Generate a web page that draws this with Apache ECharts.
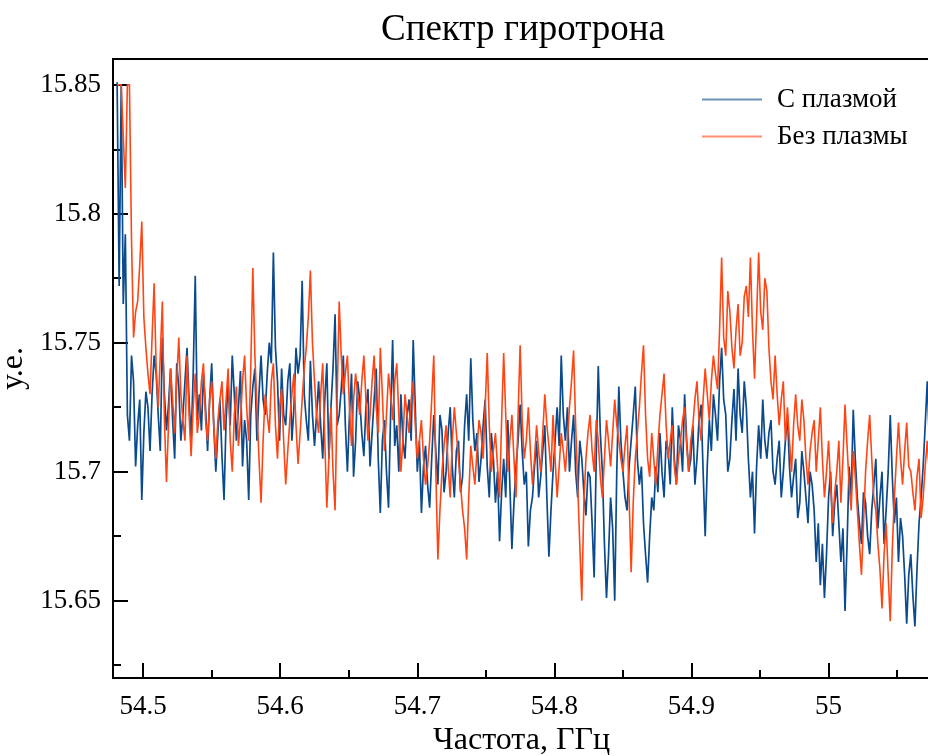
<!DOCTYPE html>
<html>
<head>
<meta charset="utf-8">
<script src="https://cdn.jsdelivr.net/npm/echarts@6/dist/echarts.min.js"></script>
<style>html,body{margin:0;padding:0;background:#fff}#c{width:928px;height:756px}</style>
</head>
<body>
<div id="c"></div>
<script>
// Sampling grid of the spectrum (GHz)
const freqStart = 54.481;
const freqStep = 0.0015;

// Series: "С плазмой" (with plasma)
const withPlasma = [
15.851,15.772,15.850,15.765,15.792,15.722,15.712,15.745,15.735,15.702,15.718,15.728,15.689,15.715,15.731,15.725,15.708,15.730,15.745,15.738,
15.722,15.708,15.752,15.730,15.716,15.726,15.740,15.720,15.705,15.742,15.733,15.712,15.722,15.735,15.748,15.728,15.712,15.738,15.776,15.720,
15.730,15.716,15.738,15.725,15.708,15.728,15.742,15.718,15.700,15.715,15.728,15.706,15.689,15.720,15.735,15.718,15.745,15.730,15.712,15.725,
15.739,15.702,15.720,15.712,15.689,15.722,15.733,15.740,15.712,15.730,15.745,15.728,15.722,15.738,15.750,15.742,15.785,15.748,15.735,15.712,
15.740,15.722,15.718,15.735,15.742,15.712,15.725,15.748,15.738,15.745,15.774,15.730,15.720,15.712,15.743,15.722,15.710,15.722,15.735,15.718,
15.705,15.728,15.742,15.705,15.725,15.740,15.761,15.718,15.722,15.732,15.745,15.718,15.700,15.722,15.738,15.698,15.712,15.735,15.728,15.715,
15.706,15.725,15.732,15.702,15.715,15.728,15.740,15.705,15.684,15.712,15.720,15.700,15.686,15.722,15.751,15.710,15.718,15.700,15.730,15.712,
15.705,15.722,15.728,15.712,15.751,15.725,15.700,15.712,15.684,15.702,15.710,15.695,15.686,15.705,15.722,15.708,15.695,15.722,15.716,15.692,
15.700,15.715,15.725,15.702,15.690,15.708,15.712,15.692,15.698,15.718,15.730,15.712,15.744,15.720,15.708,15.715,15.696,15.705,15.718,15.728,
15.702,15.690,15.715,15.705,15.688,15.700,15.673,15.692,15.705,15.690,15.720,15.695,15.670,15.688,15.702,15.712,15.726,15.708,15.695,15.700,
15.671,15.685,15.690,15.702,15.712,15.690,15.698,15.708,15.718,15.690,15.667,15.685,15.700,15.712,15.725,15.710,15.745,15.722,15.712,15.725,
15.700,15.712,15.722,15.700,15.690,15.712,15.705,15.692,15.683,15.700,15.698,15.680,15.659,15.705,15.741,15.715,15.700,15.672,15.651,15.668,
15.690,15.678,15.650,15.700,15.733,15.712,15.700,15.690,15.685,15.702,15.712,15.722,15.733,15.705,15.695,15.702,15.680,15.668,15.657,15.675,
15.690,15.685,15.702,15.692,15.715,15.700,15.690,15.712,15.708,15.695,15.725,15.705,15.695,15.718,15.712,15.700,15.730,15.712,15.700,15.705,
15.718,15.695,15.705,15.720,15.726,15.700,15.675,15.702,15.720,15.708,15.730,15.722,15.712,15.735,15.748,15.728,15.722,15.700,15.705,15.720,
15.732,15.712,15.740,15.722,15.715,15.735,15.725,15.705,15.690,15.700,15.676,15.702,15.718,15.705,15.728,15.712,15.705,15.715,15.720,15.700,
15.695,15.705,15.712,15.690,15.700,15.712,15.722,15.702,15.690,15.698,15.705,15.682,15.688,15.708,15.700,15.690,15.680,15.700,15.695,15.685,
15.665,15.680,15.656,15.672,15.651,15.668,15.690,15.700,15.675,15.688,15.695,15.680,15.665,15.678,15.646,15.672,15.702,15.690,15.724,15.705,
15.690,15.680,15.672,15.692,15.688,15.675,15.668,15.685,15.695,15.705,15.678,15.690,15.700,15.672,15.685,15.700,15.722,15.698,15.680,15.690,
15.665,15.682,15.675,15.660,15.641,15.660,15.668,15.652,15.640,15.662,15.680,15.690,15.702,15.718,15.735,15.712,15.690
];

// Series: "Без плазмы" (without plasma)
const withoutPlasma = [
15.850,15.850,15.850,15.830,15.810,15.850,15.850,15.790,15.752,15.762,15.766,15.780,15.797,15.760,15.748,15.738,15.730,15.752,15.773,15.740,
15.725,15.745,15.766,15.720,15.696,15.718,15.740,15.728,15.715,15.735,15.752,15.730,15.720,15.712,15.745,15.722,15.706,15.725,15.738,15.715,
15.722,15.735,15.742,15.720,15.712,15.728,15.735,15.718,15.705,15.720,15.728,15.735,15.716,15.728,15.740,15.712,15.700,15.722,15.733,15.710,
15.720,15.735,15.745,15.725,15.712,15.740,15.779,15.745,15.725,15.705,15.688,15.712,15.730,15.722,15.715,15.735,15.742,15.718,15.705,15.725,
15.732,15.712,15.695,15.708,15.720,15.730,15.738,15.718,15.703,15.715,15.728,15.740,15.748,15.760,15.778,15.750,15.735,15.722,15.715,15.730,
15.742,15.712,15.686,15.705,15.725,15.700,15.685,15.728,15.766,15.745,15.730,15.738,15.745,15.725,15.710,15.728,15.738,15.730,15.722,15.735,
15.745,15.728,15.712,15.722,15.735,15.745,15.725,15.715,15.748,15.730,15.708,15.722,15.738,15.730,15.720,15.735,15.742,15.722,15.700,15.712,
15.730,15.722,15.715,15.728,15.735,15.718,15.705,15.712,15.720,15.705,15.695,15.702,15.712,15.728,15.745,15.700,15.666,15.685,15.700,15.710,
15.718,15.702,15.690,15.712,15.725,15.715,15.705,15.695,15.685,15.678,15.666,15.690,15.710,15.702,15.695,15.708,15.720,15.715,15.705,15.725,
15.746,15.718,15.700,15.708,15.715,15.702,15.690,15.720,15.746,15.722,15.700,15.712,15.722,15.705,15.690,15.722,15.749,15.720,15.705,15.712,
15.725,15.708,15.695,15.705,15.718,15.708,15.700,15.715,15.730,15.718,15.710,15.700,15.722,15.705,15.690,15.702,15.715,15.708,15.700,15.712,
15.725,15.735,15.747,15.718,15.695,15.672,15.650,15.688,15.705,15.715,15.722,15.708,15.700,15.720,15.712,15.698,15.690,15.705,15.720,15.712,
15.702,15.715,15.728,15.718,15.712,15.705,15.700,15.710,15.718,15.690,15.661,15.688,15.705,15.715,15.725,15.738,15.749,15.722,15.705,15.698,
15.715,15.705,15.695,15.710,15.722,15.730,15.738,15.718,15.705,15.712,15.718,15.702,15.695,15.705,15.712,15.720,15.725,15.710,15.700,15.712,
15.718,15.728,15.735,15.720,15.712,15.728,15.740,15.730,15.720,15.735,15.745,15.738,15.732,15.755,15.783,15.752,15.745,15.770,15.762,15.748,
15.740,15.755,15.765,15.745,15.750,15.768,15.772,15.760,15.783,15.755,15.736,15.760,15.785,15.762,15.755,15.775,15.770,15.748,15.735,15.728,
15.745,15.730,15.718,15.728,15.735,15.712,15.725,15.712,15.700,15.718,15.730,15.718,15.712,15.728,15.720,15.705,15.695,15.708,15.715,15.720,
15.700,15.712,15.725,15.705,15.690,15.700,15.712,15.695,15.680,15.692,15.700,15.712,15.688,15.705,15.726,15.710,15.695,15.685,15.708,15.698,
15.685,15.672,15.660,15.680,15.700,15.712,15.722,15.705,15.690,15.685,15.672,15.662,15.647,15.668,15.680,15.660,15.642,15.670,15.690,15.705,
15.719,15.705,15.695,15.708,15.719,15.702,15.700,15.692,15.685,15.698,15.705,15.682,15.690,15.702,15.712,15.700,15.695
];

const seriesNames = ['С плазмой', 'Без плазмы'];
const xMajorTicks = [54.5, 54.6, 54.7, 54.8, 54.9, 55];
const xMinorTicks = [54.55, 54.65, 54.75, 54.85, 54.95, 55.05];
const yMajorTicks = [15.65, 15.7, 15.75, 15.8, 15.85];
const yMinorTicks = [15.625, 15.675, 15.725, 15.775, 15.825];

const pairs = arr => arr.map((v, i) => [freqStart + i * freqStep, v]);

const FONT = '"Liberation Serif", "Times New Roman", serif';
const chart = echarts.init(document.getElementById('c'), null, {renderer: 'canvas'});
const xCommon = {type: 'value', min: 54.478, max: 55.074, gridIndex: 0, position: 'bottom', splitLine: {show: false}};
const yCommon = {type: 'value', min: 15.62, max: 15.86, gridIndex: 0, position: 'left', splitLine: {show: false}};
chart.setOption({
  animation: false,
  backgroundColor: '#fff',
  title: {
    text: 'Спектр гиротрона', left: 518, top: 7, textAlign: 'center',
    textStyle: {fontFamily: FONT, fontSize: 37, fontWeight: 'normal', color: '#000'}
  },
  legend: {
    orient: 'vertical', left: 697, top: 81, itemWidth: 60, itemHeight: 2, itemGap: 10,
    icon: 'rect',
    itemStyle: {opacity: 0.6},
    textStyle: {fontFamily: FONT, fontSize: 27, color: '#000', padding: [0, 0, 0, 10]},
    data: seriesNames
  },
  grid: {left: 113, right: -2, top: 59, bottom: 78, outerBoundsMode: 'none', containLabel: false,
         show: true, borderColor: '#000', borderWidth: 2, backgroundColor: 'transparent'},
  xAxis: [
    Object.assign({}, xCommon, {
      name: 'Частота, ГГц', nameLocation: 'middle', nameGap: 46,
      nameTextStyle: {fontFamily: FONT, fontSize: 32, color: '#000'},
      axisLine: {lineStyle: {color: '#000', width: 2}},
      axisTick: {inside: true, length: 15, lineStyle: {color: '#000', width: 2}, customValues: xMajorTicks},
      axisLabel: {fontFamily: FONT, fontSize: 27, color: '#000', margin: 15, customValues: xMajorTicks}
    }),
    Object.assign({}, xCommon, {
      axisLine: {show: false},
      axisTick: {inside: true, length: 8, lineStyle: {color: '#000', width: 2}, customValues: xMinorTicks},
      axisLabel: {show: false}
    })
  ],
  yAxis: [
    Object.assign({}, yCommon, {
      name: 'у.е.', nameLocation: 'middle', nameGap: 72,
      nameTextStyle: {fontFamily: FONT, fontSize: 32, color: '#000'},
      axisLine: {lineStyle: {color: '#000', width: 2}},
      axisTick: {inside: true, length: 15, lineStyle: {color: '#000', width: 2}, customValues: yMajorTicks},
      axisLabel: {fontFamily: FONT, fontSize: 27, color: '#000', margin: 12, customValues: yMajorTicks}
    }),
    Object.assign({}, yCommon, {
      axisLine: {show: false},
      axisTick: {inside: true, length: 8, lineStyle: {color: '#000', width: 2}, customValues: yMinorTicks},
      axisLabel: {show: false}
    })
  ],
  series: [
    {name: seriesNames[0], type: 'line', xAxisIndex: 0, yAxisIndex: 0, data: pairs(withPlasma), symbol: 'none', clip: true,
     lineStyle: {color: '#0b4a8c', width: 1.7}, itemStyle: {color: '#0b4a8c'}},
    {name: seriesNames[1], type: 'line', xAxisIndex: 0, yAxisIndex: 0, data: pairs(withoutPlasma), symbol: 'none', clip: true,
     lineStyle: {color: '#ff4514', width: 1.6}, itemStyle: {color: '#ff4514'}}
  ]
});
</script>
</body>
</html>
